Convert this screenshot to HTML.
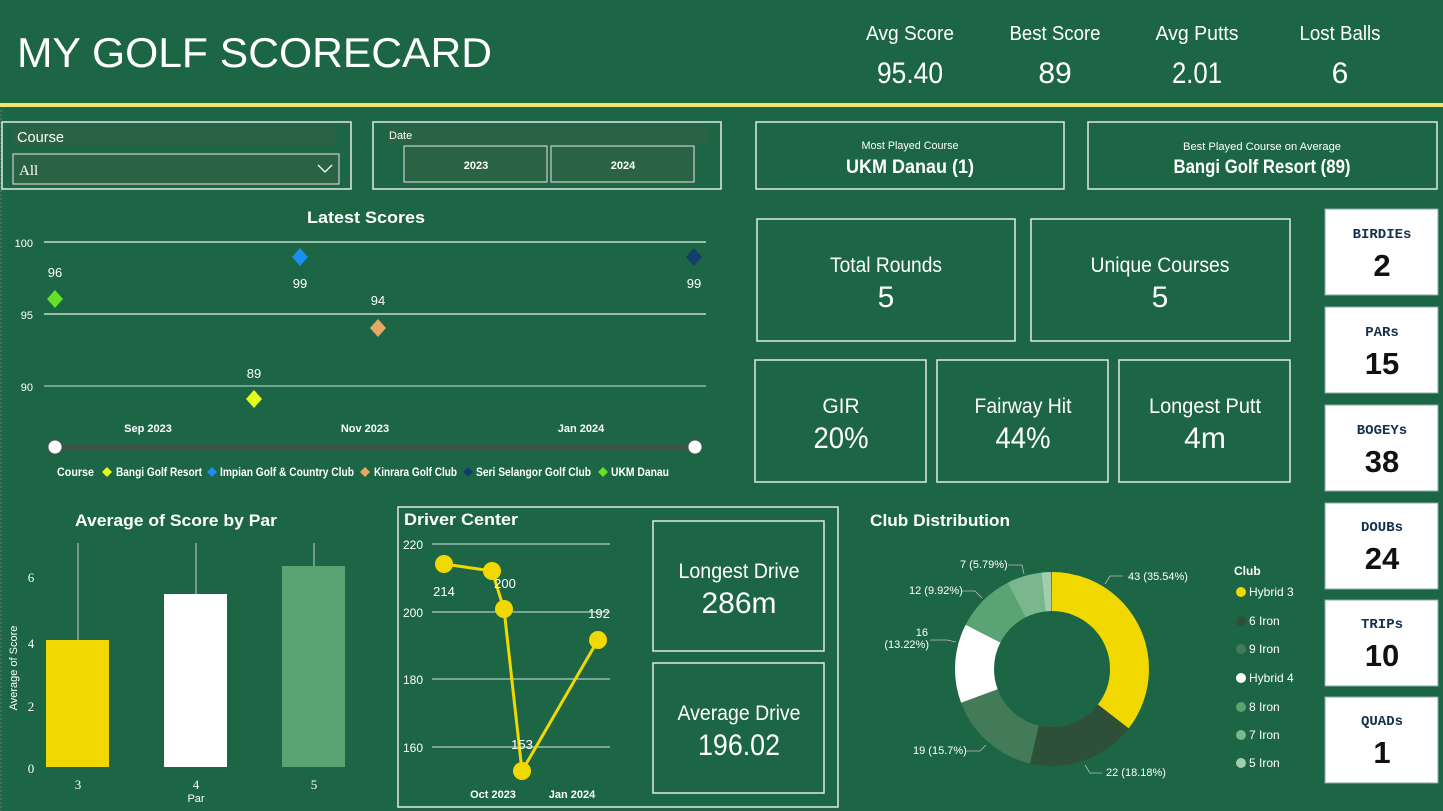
<!DOCTYPE html>
<html><head><meta charset="utf-8"><style>
html,body{margin:0;padding:0;background:#1c6645;}
svg{display:block;font-family:"Liberation Sans Narrow","Liberation Sans",sans-serif;}
</style></head><body>
<svg width="1443" height="811" viewBox="0 0 1443 811" xmlns="http://www.w3.org/2000/svg">
<rect width="1443" height="811" fill="#1c6645"/>
<!-- header -->
<text x="17" y="67" fill="#fff" font-size="42" textLength="475" lengthAdjust="spacingAndGlyphs" font-family="Liberation Sans, sans-serif">MY GOLF SCORECARD</text>
<g fill="#fff" text-anchor="middle">
<text x="910" y="40" font-size="20" textLength="88" lengthAdjust="spacingAndGlyphs">Avg Score</text><text x="910" y="83" font-size="30" textLength="66" lengthAdjust="spacingAndGlyphs">95.40</text>
<text x="1055" y="40" font-size="20" textLength="91" lengthAdjust="spacingAndGlyphs">Best Score</text><text x="1055" y="83" font-size="30">89</text>
<text x="1197" y="40" font-size="20" textLength="83" lengthAdjust="spacingAndGlyphs">Avg Putts</text><text x="1197" y="83" font-size="30" textLength="50" lengthAdjust="spacingAndGlyphs">2.01</text>
<text x="1340" y="40" font-size="20" textLength="81" lengthAdjust="spacingAndGlyphs">Lost Balls</text><text x="1340" y="83" font-size="30">6</text>
</g>
<rect x="0" y="103" width="1443" height="4" fill="#f3e36a"/>
<line x1="1" y1="110" x2="1" y2="811" stroke="#777" stroke-dasharray="2,2"/>
<!-- boxes -->
<g fill="none" stroke="#dfe8e0" stroke-width="1.5">
<rect x="2" y="122" width="349" height="67"/>
<rect x="373" y="122" width="348" height="67"/>
<rect x="756" y="122" width="308" height="67"/>
<rect x="1088" y="122" width="349" height="67"/>
<rect x="757" y="219" width="258" height="122"/>
<rect x="1031" y="219" width="259" height="122"/>
<rect x="755" y="360" width="171" height="122"/>
<rect x="937" y="360" width="171" height="122"/>
<rect x="1119" y="360" width="171" height="122"/>
<rect x="398" y="507" width="440" height="300"/>
<rect x="653" y="521" width="171" height="130"/>
<rect x="653" y="663" width="171" height="130"/>
</g>
<rect x="13" y="126" width="322" height="19" fill="#2a6343"/>
<text x="17" y="142" fill="#fff" font-size="15" textLength="47" lengthAdjust="spacingAndGlyphs">Course</text>
<rect x="13" y="154" width="326" height="30" fill="#2a6343" stroke="#ccc" stroke-width="1.2"/>
<text x="19" y="175" fill="#fff" font-size="15" font-family="Liberation Serif, serif">All</text>
<polyline points="318,165 325,172 332,165" fill="none" stroke="#fff" stroke-width="1.3"/>
<rect x="388" y="126" width="320" height="17" fill="#2a6343"/>
<text x="389" y="139" fill="#fff" font-size="11">Date</text>
<rect x="404" y="146" width="143" height="36" fill="#2a6343" stroke="#ccc" stroke-width="1.2"/>
<rect x="551" y="146" width="143" height="36" fill="#2a6343" stroke="#ccc" stroke-width="1.2"/>
<text x="476" y="169" fill="#fff" font-size="11" font-weight="bold" text-anchor="middle">2023</text>
<text x="623" y="169" fill="#fff" font-size="11" font-weight="bold" text-anchor="middle">2024</text>
<g fill="#fff" text-anchor="middle">
<text x="910" y="149" font-size="11" textLength="97" lengthAdjust="spacingAndGlyphs">Most Played Course</text>
<text x="910" y="173" font-size="19" textLength="128" lengthAdjust="spacingAndGlyphs" font-weight="bold">UKM Danau (1)</text>
<text x="1262" y="150" font-size="11" textLength="158" lengthAdjust="spacingAndGlyphs">Best Played Course on Average</text>
<text x="1262" y="173" font-size="19" textLength="177" lengthAdjust="spacingAndGlyphs" font-weight="bold">Bangi Golf Resort (89)</text>
<text x="886" y="272" font-size="21" textLength="112" lengthAdjust="spacingAndGlyphs">Total Rounds</text><text x="886" y="307" font-size="30">5</text>
<text x="1160" y="272" font-size="21" textLength="139" lengthAdjust="spacingAndGlyphs">Unique Courses</text><text x="1160" y="307" font-size="30">5</text>
<text x="841" y="413" font-size="21">GIR</text><text x="841" y="448" font-size="30" textLength="55" lengthAdjust="spacingAndGlyphs">20%</text>
<text x="1023" y="413" font-size="21" textLength="97" lengthAdjust="spacingAndGlyphs">Fairway Hit</text><text x="1023" y="448" font-size="30" textLength="55" lengthAdjust="spacingAndGlyphs">44%</text>
<text x="1205" y="413" font-size="21" textLength="112" lengthAdjust="spacingAndGlyphs">Longest Putt</text><text x="1205" y="448" font-size="30">4m</text>
<text x="739" y="578" font-size="21" textLength="121" lengthAdjust="spacingAndGlyphs">Longest Drive</text><text x="739" y="613" font-size="30" textLength="75" lengthAdjust="spacingAndGlyphs">286m</text>
<text x="739" y="720" font-size="21" textLength="123" lengthAdjust="spacingAndGlyphs">Average Drive</text><text x="739" y="755" font-size="30" textLength="82" lengthAdjust="spacingAndGlyphs">196.02</text>
</g>
<!-- right cards -->
<g fill="#fff" stroke="#8aa" stroke-width="1">
<rect x="1325" y="209" width="113" height="86"/><rect x="1325" y="307" width="113" height="86"/>
<rect x="1325" y="405" width="113" height="86"/><rect x="1325" y="503" width="113" height="86"/>
<rect x="1325" y="600" width="113" height="86"/><rect x="1325" y="697" width="113" height="86"/>
</g>
<g text-anchor="middle">
<g fill="#13304d" font-family="Liberation Mono, monospace" font-size="14" font-weight="bold">
<text x="1382" y="238">BIRDIEs</text><text x="1382" y="336">PARs</text><text x="1382" y="434">BOGEYs</text>
<text x="1382" y="531">DOUBs</text><text x="1382" y="628">TRIPs</text><text x="1382" y="725">QUADs</text></g>
<g fill="#111" font-size="31" font-weight="bold">
<text x="1382" y="276">2</text><text x="1382" y="374">15</text><text x="1382" y="472">38</text>
<text x="1382" y="569">24</text><text x="1382" y="666">10</text><text x="1382" y="763">1</text></g>
</g>
<!-- latest scores -->
<text x="366" y="223" fill="#fff" font-size="17" font-weight="bold" text-anchor="middle" textLength="118" lengthAdjust="spacingAndGlyphs">Latest Scores</text>
<g stroke="#e8efe8" stroke-width="1.3"><line x1="44" y1="242" x2="706" y2="242"/><line x1="44" y1="314" x2="706" y2="314"/><line x1="44" y1="386" x2="706" y2="386" stroke="#a9c7b3"/></g>
<g fill="#fff" font-size="11" text-anchor="end"><text x="33" y="247">100</text><text x="33" y="319">95</text><text x="33" y="391">90</text></g>
<polygon points="55,290 63,299 55,308 47,299" fill="#62e126"/>
<polygon points="300,248 308,257 300,266 292,257" fill="#1a8ef0"/>
<polygon points="378,319 386,328 378,337 370,328" fill="#e7a765"/>
<polygon points="254,390 262,399 254,408 246,399" fill="#e4ff1a"/>
<polygon points="694,248 702,257 694,266 686,257" fill="#133e6c"/>
<g fill="#fff" font-size="13" text-anchor="middle">
<text x="55" y="277">96</text><text x="300" y="288">99</text><text x="378" y="305">94</text><text x="254" y="378">89</text><text x="694" y="288">99</text>
</g>
<g fill="#fff" font-size="11" font-weight="bold" text-anchor="middle">
<text x="148" y="432">Sep 2023</text><text x="365" y="432">Nov 2023</text><text x="581" y="432">Jan 2024</text></g>
<line x1="55" y1="447" x2="695" y2="447" stroke="#4a4a4a" stroke-width="4"/>
<circle cx="55" cy="447" r="7" fill="#fff" stroke="#555"/><circle cx="695" cy="447" r="7" fill="#fff" stroke="#555"/>
<g font-size="12" fill="#fff" font-weight="bold" lengthAdjust="spacingAndGlyphs">
<text x="57" y="476" textLength="37" lengthAdjust="spacingAndGlyphs">Course</text>
<polygon points="107,467 112,472 107,477 102,472" fill="#e4ff1a"/><text x="116" y="476" textLength="86" lengthAdjust="spacingAndGlyphs">Bangi Golf Resort</text>
<polygon points="212,467 217,472 212,477 207,472" fill="#1a8ef0"/><text x="220" y="476" textLength="134" lengthAdjust="spacingAndGlyphs">Impian Golf &amp; Country Club</text>
<polygon points="365,467 370,472 365,477 360,472" fill="#e7a765"/><text x="374" y="476" textLength="83" lengthAdjust="spacingAndGlyphs">Kinrara Golf Club</text>
<polygon points="468,467 473,472 468,477 463,472" fill="#133e6c"/><text x="476" y="476" textLength="115" lengthAdjust="spacingAndGlyphs">Seri Selangor Golf Club</text>
<polygon points="603,467 608,472 603,477 598,472" fill="#62e126"/><text x="611" y="476" textLength="58" lengthAdjust="spacingAndGlyphs">UKM Danau</text>
</g>
<!-- bar chart -->
<text x="176" y="526" fill="#fff" font-size="17" font-weight="bold" text-anchor="middle" textLength="202" lengthAdjust="spacingAndGlyphs">Average of Score by Par</text>
<g fill="#fff" font-size="13" font-family="Liberation Serif, serif" text-anchor="middle">
<text x="31" y="582">6</text><text x="31" y="648">4</text><text x="31" y="711">2</text><text x="31" y="773">0</text>
<text x="78" y="789">3</text><text x="196" y="789">4</text><text x="314" y="789">5</text></g>
<text x="196" y="802" fill="#fff" font-size="11" text-anchor="middle">Par</text>
<text transform="translate(17,668) rotate(-90)" fill="#fff" font-size="11" text-anchor="middle">Average of Score</text>
<g stroke="#ccc" stroke-width="1"><line x1="78" y1="543" x2="78" y2="640"/><line x1="196" y1="543" x2="196" y2="594"/><line x1="314" y1="543" x2="314" y2="566"/></g>
<rect x="46" y="640" width="63" height="127" fill="#f0d800"/>
<rect x="164" y="594" width="63" height="173" fill="#fff"/>
<rect x="282" y="566" width="63" height="201" fill="#5aa372"/>
<!-- driver center -->
<text x="404" y="525" fill="#fff" font-size="17" font-weight="bold" textLength="114" lengthAdjust="spacingAndGlyphs">Driver Center</text>
<g stroke="#d8e4dc" stroke-width="1"><line x1="432" y1="544" x2="610" y2="544"/><line x1="432" y1="612" x2="610" y2="612"/><line x1="432" y1="679" x2="610" y2="679"/><line x1="432" y1="747" x2="610" y2="747"/></g>
<g fill="#fff" font-size="12"><text x="403" y="549">220</text><text x="403" y="617">200</text><text x="403" y="684">180</text><text x="403" y="752">160</text></g>
<polyline points="444,564 492,571 504,609 522,771 598,640" fill="none" stroke="#f0d800" stroke-width="3"/>
<g fill="#f0d800"><circle cx="444" cy="564" r="9"/><circle cx="492" cy="571" r="9"/><circle cx="504" cy="609" r="9"/><circle cx="522" cy="771" r="9"/><circle cx="598" cy="640" r="9"/></g>
<g fill="#fff" font-size="13" text-anchor="middle"><text x="444" y="596">214</text><text x="505" y="588">200</text><text x="522" y="749">153</text><text x="599" y="618">192</text></g>
<g fill="#fff" font-size="11" font-weight="bold" text-anchor="middle"><text x="493" y="798">Oct 2023</text><text x="572" y="798">Jan 2024</text></g>
<!-- donut -->
<text x="870" y="526" fill="#fff" font-size="17" font-weight="bold" textLength="140" lengthAdjust="spacingAndGlyphs">Club Distribution</text>
<g transform="translate(1052,669) rotate(-90)" fill="none" stroke-width="39">
<circle r="77.5" pathLength="121" stroke="#f0d800" stroke-dasharray="43 200" stroke-dashoffset="0"/>
<circle r="77.5" pathLength="121" stroke="#2e5039" stroke-dasharray="22 200" stroke-dashoffset="-43"/>
<circle r="77.5" pathLength="121" stroke="#437a57" stroke-dasharray="19 200" stroke-dashoffset="-65"/>
<circle r="77.5" pathLength="121" stroke="#ffffff" stroke-dasharray="16 200" stroke-dashoffset="-84"/>
<circle r="77.5" pathLength="121" stroke="#5aa372" stroke-dasharray="12 200" stroke-dashoffset="-100"/>
<circle r="77.5" pathLength="121" stroke="#7bb78d" stroke-dasharray="7 200" stroke-dashoffset="-112"/>
<circle r="77.5" pathLength="121" stroke="#a0cfae" stroke-dasharray="2 200" stroke-dashoffset="-119"/>
</g>
<g stroke="#bbb" fill="none" stroke-width="0.8">
<polyline points="1105,584 1110,576 1123,576"/><polyline points="1085,765 1090,773 1102,773"/>
<polyline points="986,745 980,751 966,751"/><polyline points="956,642 947,640 930,640"/>
<polyline points="982,598 975,591 962,591"/><polyline points="1024,574 1022,565 1008,565"/>
</g>
<g fill="#fff" font-size="11">
<text x="1128" y="580">43 (35.54%)</text><text x="1106" y="776">22 (18.18%)</text>
<text x="913" y="754">19 (15.7%)</text><text x="928" y="636" text-anchor="end">16</text><text x="929" y="648" text-anchor="end">(13.22%)</text>
<text x="909" y="594">12 (9.92%)</text><text x="960" y="568">7 (5.79%)</text>
</g>
<text x="1234" y="575" fill="#fff" font-size="12" font-weight="bold">Club</text>
<g font-size="12" fill="#fff">
<circle cx="1241" cy="592" r="5" fill="#f0d800"/><text x="1249" y="596">Hybrid 3</text>
<circle cx="1241" cy="621" r="5" fill="#2e5039"/><text x="1249" y="625">6 Iron</text>
<circle cx="1241" cy="649" r="5" fill="#437a57"/><text x="1249" y="653">9 Iron</text>
<circle cx="1241" cy="678" r="5" fill="#fff"/><text x="1249" y="682">Hybrid 4</text>
<circle cx="1241" cy="707" r="5" fill="#5aa372"/><text x="1249" y="711">8 Iron</text>
<circle cx="1241" cy="735" r="5" fill="#7bb78d"/><text x="1249" y="739">7 Iron</text>
<circle cx="1241" cy="763" r="5" fill="#a0cfae"/><text x="1249" y="767">5 Iron</text>
</g>
</svg>
</body></html>
